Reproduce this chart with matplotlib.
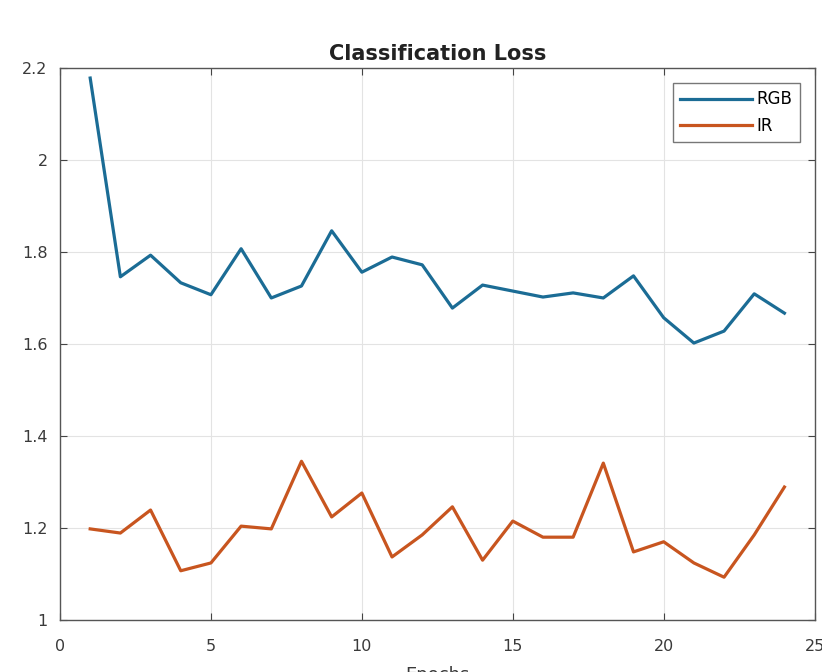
import matplotlib
matplotlib.use("Agg")
import matplotlib.pyplot as plt

# Training-loss values per epoch
epochs = list(range(1, 25))
rgb_loss = [2.178, 1.746, 1.793, 1.733, 1.707, 1.807, 1.700, 1.726, 1.846, 1.756,
            1.789, 1.772, 1.678, 1.728, 1.715, 1.702, 1.711, 1.700, 1.748, 1.657,
            1.602, 1.628, 1.709, 1.667]
ir_loss = [1.198, 1.189, 1.239, 1.107, 1.124, 1.204, 1.198, 1.345, 1.224, 1.276,
           1.137, 1.185, 1.246, 1.130, 1.215, 1.180, 1.180, 1.341, 1.148, 1.170,
           1.124, 1.093, 1.185, 1.289]
series_names = ["RGB", "IR"]
x_ticks = [0, 5, 10, 15, 20, 25]
y_ticks = [1, 1.2, 1.4, 1.6, 1.8, 2, 2.2]
y_tick_labels = ["1", "1.2", "1.4", "1.6", "1.8", "2", "2.2"]

plt.rcParams["font.family"] = ["DejaVu Sans"]

fig = plt.figure(figsize=(8.22, 6.72), dpi=100)
ax = fig.add_axes([0.073, 0.0774, 0.918, 0.8215])

ax.plot(epochs, rgb_loss, color="#1b6c95", lw=2.3, label=series_names[0])
ax.plot(epochs, ir_loss, color="#c8551f", lw=2.3, label=series_names[1])

ax.set_xlim(0, 25)
ax.set_ylim(1, 2.2)
ax.set_xticks(x_ticks)
ax.set_yticks(y_ticks)
ax.set_yticklabels(y_tick_labels)
ax.grid(True, color="#e3e3e3", lw=0.8)
ax.set_axisbelow(True)

ax.tick_params(direction="in", top=True, right=True, length=5, width=0.8,
               colors="#444444", labelsize=11.5, labelcolor="#3a3a3a")
ax.tick_params(axis="x", pad=14)
ax.tick_params(axis="y", pad=9)
for sp in ax.spines.values():
    sp.set_color("#555555")
    sp.set_linewidth(1.0)

ax.set_title("Classification Loss", fontsize=15, fontweight="bold", pad=6,
             color="#222222")
ax.set_xlabel("Epochs", fontsize=13, color="#3a3a3a", labelpad=8)

leg = ax.legend(loc="upper right", fontsize=12, handlelength=4.3,
                handletextpad=0.25, borderaxespad=0.9, fancybox=False,
                frameon=True, borderpad=0.45, labelspacing=0.5)
leg.get_frame().set_edgecolor("#555555")
leg.get_frame().set_linewidth(1.0)

fig.savefig("out.png", dpi=100)
